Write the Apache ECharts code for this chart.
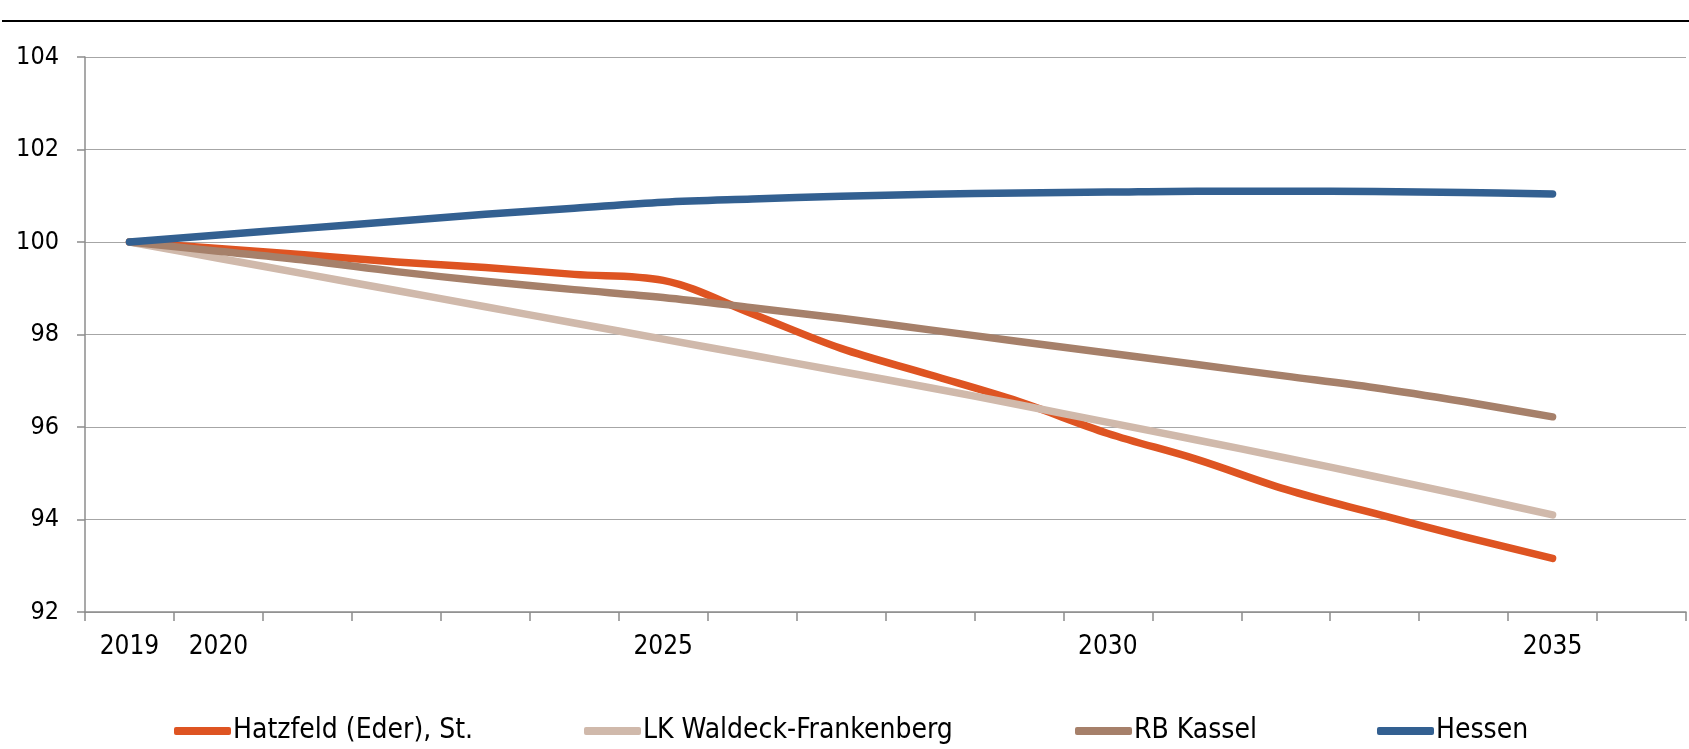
<!DOCTYPE html>
<html>
<head>
<meta charset="utf-8">
<title>Bevölkerungsentwicklung</title>
<script src="https://cdn.jsdelivr.net/npm/echarts@6/dist/echarts.min.js"></script>
<style>
  html, body { margin: 0; padding: 0; background: #fff; }
  #chart { width: 1689px; height: 749px; }
</style>
</head>
<body>
<div id="chart"></div>
<script>
// Kategorien (Jahre) - 2036 bleibt leer, damit rechts noch ein Band frei ist
const years = ['2019', '2020', '2021', '2022', '2023', '2024', '2025', '2026', '2027',
  '2028', '2029', '2030', '2031', '2032', '2033', '2034', '2035', '2036'];
// nur diese Jahre bekommen eine Beschriftung
const shownYears = ['2019', '2020', '2025', '2030', '2035'];

// Indexwerte (2019 = 100)
const hatzfeld = [100, 99.86, 99.72, 99.57, 99.45, 99.3, 99.17, 98.45, 97.7, 97.13,
  96.55, 95.86, 95.3, 94.65, 94.13, 93.63, 93.16];
const waldeck = [100, 99.65, 99.3, 98.95, 98.6, 98.25, 97.9, 97.55, 97.2, 96.85,
  96.48, 96.1, 95.72, 95.33, 94.93, 94.52, 94.1];
const kassel = [100, 99.8, 99.6, 99.36, 99.15, 98.97, 98.8, 98.58, 98.35, 98.1,
  97.85, 97.6, 97.35, 97.1, 96.85, 96.55, 96.22];
const hessen = [100, 100.15, 100.3, 100.45, 100.6, 100.73, 100.86, 100.93, 100.99, 101.03,
  101.06, 101.08, 101.1, 101.1, 101.09, 101.07, 101.04];

// Achse
const yMin = 92;
const yMax = 104;
const yStep = 2;

const seriesList = [
  { name: 'Hatzfeld (Eder), St.', data: hatzfeld, color: '#DE5422' },
  { name: 'LK Waldeck-Frankenberg', data: waldeck, color: '#D0B9AB' },
  { name: 'RB Kassel', data: kassel, color: '#A6806A' },
  { name: 'Hessen', data: hessen, color: '#336091' }
];

// linke Kante der Legendensymbole
const legendLeft = [174, 584, 1075, 1377];

const fontFamily = '"Liberation Sans Narrow", "Arial Narrow", "DejaVu Sans Condensed", sans-serif';

const chart = echarts.init(document.getElementById('chart'));

const option = {
  animation: false,
  backgroundColor: '#fff',
  textStyle: { fontFamily: fontFamily, color: '#000' },
  // schwarze Linie oben unter dem (abgeschnittenen) Titel
  graphic: [{
    type: 'line',
    shape: { x1: 2, y1: 21, x2: 1689, y2: 21 },
    style: { stroke: '#000', lineWidth: 2 }
  }],
  grid: {
    left: 85,
    right: 3,
    top: 57,
    bottom: 137
  },
  // ein Legendenblock pro Reihe, damit die Abstände wie im Original sind
  legend: seriesList.map((s, i) => ({
    left: legendLeft[i],
    top: 717,
    padding: 0,
    icon: 'roundRect',
    itemWidth: 57,
    itemHeight: 8,
    textStyle: { fontFamily: fontFamily, fontSize: 28, color: '#000', padding: [0, 0, 0, -3] },
    data: [s.name]
  })),
  xAxis: {
    type: 'category',
    data: years,
    boundaryGap: true,
    axisLine: { lineStyle: { color: '#8c8c8c', width: 1.5 } },
    axisTick: { show: true, interval: 0, length: 9, lineStyle: { color: '#8c8c8c', width: 1.5 } },
    axisLabel: {
      interval: 0,
      margin: 22,
      fontSize: 26,
      fontFamily: fontFamily,
      color: '#000',
      formatter: (v) => (shownYears.includes(v) ? v : '')
    },
    splitLine: { show: false }
  },
  yAxis: {
    type: 'value',
    min: yMin,
    max: yMax,
    interval: yStep,
    axisLine: { show: true, lineStyle: { color: '#8c8c8c', width: 1.5 } },
    axisTick: { show: true, length: 8, lineStyle: { color: '#8c8c8c', width: 1.5 } },
    axisLabel: { margin: 26, fontSize: 25, fontFamily: fontFamily, color: '#000' },
    splitLine: { lineStyle: { color: '#a6a6a6', width: 1.2 } }
  },
  series: seriesList.map(s => ({
    name: s.name,
    type: 'line',
    data: s.data,
    smooth: 0.35,
    showSymbol: false,
    symbol: 'none',
    color: s.color,
    lineStyle: { color: s.color, width: 7.5, cap: 'round', join: 'round' }
  }))
};

chart.setOption(option);
</script>
</body>
</html>
